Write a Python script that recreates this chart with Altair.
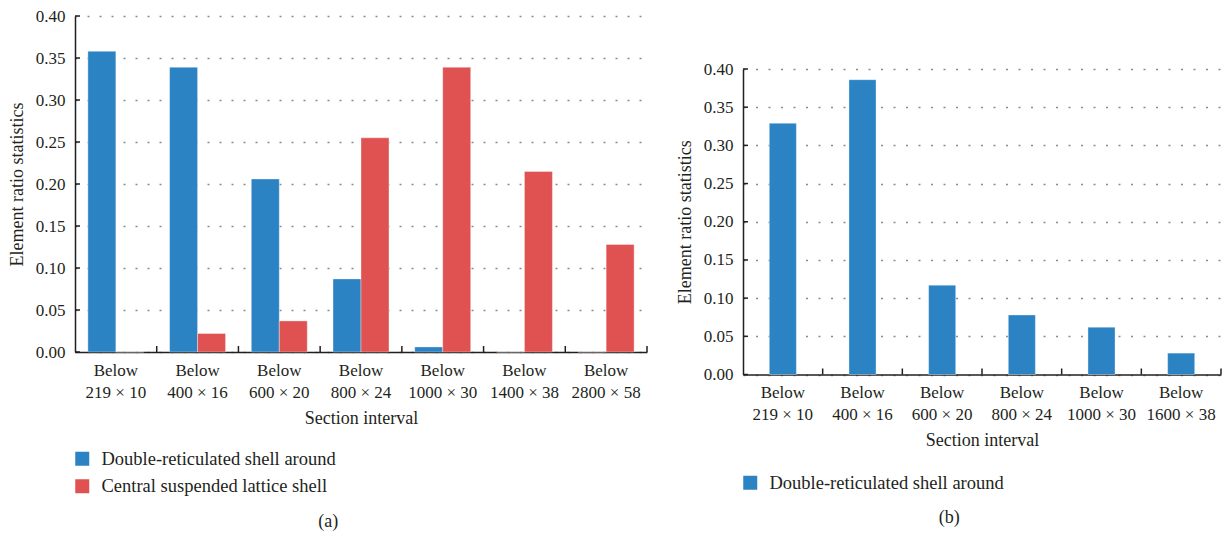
import altair as alt
import pandas as pd

FONT = "Liberation Serif"
INK = "#231f20"
BLUE = "#2b83c3"
RED = "#e05252"

# ---- data -------------------------------------------------------------
series_names = ["Double-reticulated shell around", "Central suspended lattice shell"]
series_colors = [BLUE, RED]

sections_a = ["219 × 10", "400 × 16", "600 × 20", "800 × 24",
              "1000 × 30", "1400 × 38", "2800 × 58"]
double_a = [0.358, 0.339, 0.206, 0.087, 0.006, 0.0, 0.0]
central_a = [0.0, 0.022, 0.037, 0.255, 0.339, 0.215, 0.128]

sections_b = ["219 × 10", "400 × 16", "600 × 20", "800 × 24",
              "1000 × 30", "1600 × 38"]
double_b = [0.329, 0.386, 0.117, 0.078, 0.062, 0.028]

y_ticks = [0.0, 0.05, 0.10, 0.15, 0.20, 0.25, 0.30, 0.35, 0.40]


def below(sections):
    return ["Below " + s for s in sections]


def long_table(sections, columns):
    rows = []
    for name, values in columns:
        for sec, v in zip(below(sections), values):
            rows.append({"section": sec, "series": name, "value": v})
    return pd.DataFrame(rows)


def panel(sections, columns, width, height, pad_inner, dash,
          legend_y, caption, title_offset):
    order = below(sections)
    names = [c[0] for c in columns]
    colors = series_colors[:len(columns)]
    df = long_table(sections, columns)

    x_axis = alt.Axis(
        labelExpr="['Below', substring(datum.label, 6)]",
        labelAngle=0, labelFont=FONT, labelFontSize=17, labelColor=INK,
        labelLineHeight=22, labelPadding=10, ticks=False, grid=False,
        domainColor=INK, domainWidth=1.5,
        title="Section interval", titleFont=FONT, titleFontSize=18,
        titleFontWeight="normal", titleColor=INK, titlePadding=9,
    )
    x_scale = alt.Scale(paddingInner=pad_inner, paddingOuter=pad_inner / 2)
    x_enc = alt.X("section:N", sort=order, scale=x_scale, axis=x_axis)

    y_axis = alt.Axis(
        values=y_ticks, format=".2f", ticks=False,
        labelFont=FONT, labelFontSize=17, labelColor=INK, labelPadding=10,
        grid=True, gridDash=dash, gridColor="#8a8a8a", gridWidth=1.5,
        domainColor=INK, domainWidth=1.5,
        title="Element ratio statistics", titleFont=FONT, titleFontSize=18,
        titleFontWeight="normal", titleColor=INK, titlePadding=8.5,
    )
    y_enc = alt.Y("value:Q", scale=alt.Scale(domain=[0, 0.4], nice=False),
                  axis=y_axis)

    legend = alt.Legend(
        title=None, orient="none", legendX=-2, legendY=legend_y,
        direction="vertical", symbolType="square", symbolSize=196,
        symbolStrokeWidth=0, symbolOpacity=1, padding=0,
        labelFont=FONT, labelFontSize=18.5, labelColor=INK,
        labelOffset=10, rowPadding=8.5, labelLimit=400,
    )
    color_enc = alt.Color("series:N", sort=names,
                          scale=alt.Scale(domain=names, range=colors),
                          legend=legend)

    enc = dict(x=x_enc, y=y_enc, color=color_enc)
    if len(columns) > 1:
        enc["xOffset"] = alt.XOffset(
            "series:N", sort=names,
            scale=alt.Scale(paddingInner=0, paddingOuter=0))

    bars = alt.Chart(df).mark_bar(
        stroke="white", strokeWidth=0.8, strokeOpacity=0.45
    ).encode(**enc)

    # inward tick marks on both axes; x ticks sit midway in the band gaps
    step = width / len(order)
    xt = pd.DataFrame({"section": order})
    x_ticks = alt.Chart(xt).mark_rule(
        color=INK, strokeWidth=1.5, xOffset=pad_inner * step / 2
    ).encode(
        x=alt.X("section:N", sort=order, scale=x_scale, axis=x_axis,
                bandPosition=1),
        y=alt.value(height), y2=alt.value(height - 6),
    )
    yt = pd.DataFrame({"value": y_ticks})
    y_marks = alt.Chart(yt).mark_rule(color=INK, strokeWidth=1.5).encode(
        y=y_enc, x=alt.value(0), x2=alt.value(5),
    )

    return alt.layer(bars, x_ticks, y_marks).properties(
        width=width, height=height,
        title=alt.TitleParams(
            caption, orient="bottom", anchor="middle", frame="bounds",
            font=FONT, fontSize=18, fontWeight="normal", color=INK,
            offset=title_offset,
        ),
    )


left = panel(sections_a,
             [(series_names[0], double_a), (series_names[1], central_a)],
             width=572, height=336, pad_inner=0.315, dash=[2, 10],
             legend_y=433.5, caption="(a)", title_offset=16)

right = panel(sections_b, [(series_names[0], double_b)],
              width=478, height=305.5, pad_inner=0.66, dash=[2, 10.5],
              legend_y=404.5, caption="(b)", title_offset=16)

# empty block that lowers panel (b)
spacer = alt.Chart(pd.DataFrame({"a": [0]})).mark_rect(opacity=0).encode(
    x=alt.value(0), x2=alt.value(478), y=alt.value(0), y2=alt.value(43.7)
).properties(width=478, height=43.7)

right_col = alt.vconcat(spacer, right, spacing=0).resolve_legend(
    color="independent"
)

chart = alt.hconcat(
    left, right_col, spacing=28
).resolve_scale(
    color="independent", xOffset="independent"
).resolve_legend(
    color="independent"
).properties(
    padding={"left": 8, "top": 7, "right": 0, "bottom": 0},
    background="white",
).configure_view(stroke=None)

chart.save("out.html", embed_options={"renderer": "svg", "actions": False})
